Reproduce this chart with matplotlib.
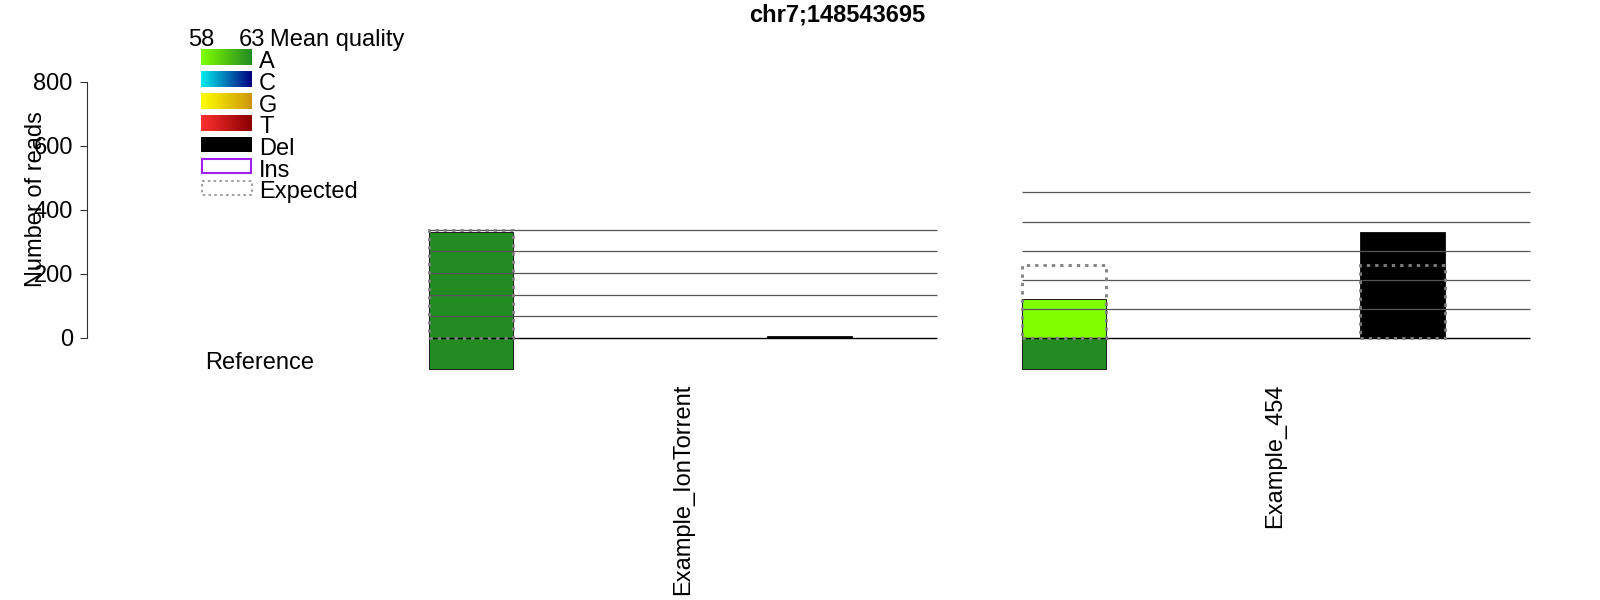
import numpy as np
import matplotlib
matplotlib.use("Agg")
import matplotlib.pyplot as plt
from matplotlib.colors import LinearSegmentedColormap
from matplotlib.patches import Rectangle

plt.rcParams["font.family"] = ["Liberation Sans", "DejaVu Sans"]

TITLE = "chr7;148543695"
SAMPLES = ["Example_IonTorrent", "Example_454"]
BASES = ["A", "C", "G", "T", "Del", "Ins"]
REF_BASE = "A"
QUAL_LO, QUAL_HI = 58, 63
Y_TICKS = [0, 200, 400, 600, 800]

# reads per slot (A, C, G, T, Del, Ins)
ION_COUNTS = [331, 0, 0, 0, 6, 0]
ION_QUAL = [63, 0, 0, 0, 0, 0]
ION_EXPECTED = [337, 0, 0, 0, 0, 0]
ION_GRID = [67, 135, 202, 270, 337]

S454_COUNTS = [122, 0, 0, 0, 331, 0]
S454_QUAL = [58, 0, 0, 0, 0, 0]
S454_EXPECTED = [226, 0, 0, 0, 226, 0]
S454_GRID = [91, 181, 272, 363, 454]

GRADIENTS = {
    "A": ("#7FFF00", "#228B22"),
    "C": ("#00EEEE", "#000080"),
    "G": ("#FFFF00", "#CD950C"),
    "T": ("#FF3030", "#8B0000"),
}
CMAPS = {b: LinearSegmentedColormap.from_list(b, c) for b, c in GRADIENTS.items()}

# layout in pixels (figure is 1600 x 600)
W, H = 1600, 600
X0, SLOT = 89.8, 84.7           # origin of base slots, width of one slot
AXIS_PX = 86.7                  # y axis position
Y0, PXR = 337.8, 0.32025        # baseline, pixels per read
REF_DEPTH = 31 / PXR            # reference box below baseline
FS = 17

fig = plt.figure(figsize=(16, 6), dpi=100)
ax = fig.add_axes([0, 0, 1, 1])
ax.set_xlim(-X0 / SLOT, (W - X0) / SLOT)
ax.set_ylim((Y0 - H) / PXR, Y0 / PXR)
ax.patch.set_alpha(0)

for s in ["top", "right", "bottom"]:
    ax.spines[s].set_visible(False)
ax.spines["left"].set_position(("data", (AXIS_PX - X0) / SLOT))
ax.spines["left"].set_bounds(0, 800)
ax.spines["left"].set_linewidth(0.8)
ax.spines["left"].set_color("#333333")
ax.set_xticks([])
ax.set_yticks(Y_TICKS)
ax.tick_params(axis="y", length=5, width=0.8, color="#333333", pad=5, labelsize=FS)


def bar_color(base, q):
    if base == "Del":
        return "black"
    if base == "Ins":
        return "white"
    return CMAPS[base]((q - QUAL_LO) / (QUAL_HI - QUAL_LO))


panels = [(ION_COUNTS, ION_QUAL, ION_EXPECTED, ION_GRID),
          (S454_COUNTS, S454_QUAL, S454_EXPECTED, S454_GRID)]

for i, (name, (counts, qual, expected, grid)) in enumerate(zip(SAMPLES, panels)):
    start = 4 + i * (len(BASES) + 1)
    end = start + len(BASES)
    # reference base below the baseline
    r = BASES.index(REF_BASE)
    ax.add_patch(Rectangle((start + r, -REF_DEPTH), 1, REF_DEPTH,
                           facecolor=CMAPS[REF_BASE](1.0), edgecolor="#1a1a1a",
                           linewidth=0.7, zorder=2))
    for j, base in enumerate(BASES):
        if counts[j] > 0:
            ax.bar(start + j, counts[j], width=1, align="edge",
                   color=bar_color(base, qual[j]), edgecolor="#1a1a1a",
                   linewidth=0.7, zorder=2)
    ax.hlines(grid, start, end, colors="#555555", linewidth=0.9, zorder=3)
    ax.hlines(0, start, end, colors="black", linewidth=1.0, zorder=3)
    for j, e in enumerate(expected):
        if e > 0:
            ax.add_patch(Rectangle((start + j, 0), 1, e, fill=False,
                                   edgecolor="#808080", linewidth=2.0,
                                   linestyle=(0, (1.2, 1.8)), zorder=4))
    ax.text((start + end) / 2, -(384 - Y0) / PXR, name, rotation=90,
            ha="center", va="top", fontsize=FS)

ax.text((260 - X0) / SLOT, -REF_DEPTH, "Reference", ha="center",
        va="baseline", fontsize=FS)

# overlay in pixel coordinates for title, y label and legend
lg = fig.add_axes([0, 0, 1, 1])
lg.axis("off")
lg.patch.set_alpha(0)

lg.text(837, 15, TITLE, ha="center", va="center", fontsize=FS, fontweight="bold")
lg.text(36.5, 199, "Number of reads", rotation=90, ha="center", va="center", fontsize=FS)

lx0, lx1 = 201, 252
lg.text(lx0, 40, str(QUAL_LO), ha="center", va="center", fontsize=FS)
lg.text(lx1, 40, str(QUAL_HI), ha="center", va="center", fontsize=FS)
lg.text(270, 40, "Mean quality", ha="left", va="center", fontsize=FS)

grad = np.linspace(0, 1, 128)[None, :]
labels = BASES + ["Expected"]
for k, lab in enumerate(labels):
    top = 50 + 21.7 * k
    h = 15.5
    if lab in CMAPS:
        lg.imshow(grad, cmap=CMAPS[lab], aspect="auto",
                  extent=(lx0, lx1, top + h, top), interpolation="bilinear")
    elif lab == "Del":
        lg.add_patch(Rectangle((lx0, top), lx1 - lx0, h, facecolor="black"))
    elif lab == "Ins":
        lg.add_patch(Rectangle((lx0 + 0.8, top + 0.8), lx1 - lx0 - 1.6, h - 1.6,
                               facecolor="white", edgecolor="#A020F0", linewidth=1.5))
    else:
        lg.add_patch(Rectangle((lx0 + 0.5, top + 0.5), lx1 - lx0 - 1, h - 1, fill=False,
                               edgecolor="#909090", linewidth=1.2,
                               linestyle=(0, (1.5, 2.0))))
    lg.text(259, top + h / 2 + 4.5, lab, ha="left", va="center", fontsize=FS)

lg.set_xlim(0, W)
lg.set_ylim(H, 0)

fig.savefig("out.png", dpi=100, facecolor="white")
